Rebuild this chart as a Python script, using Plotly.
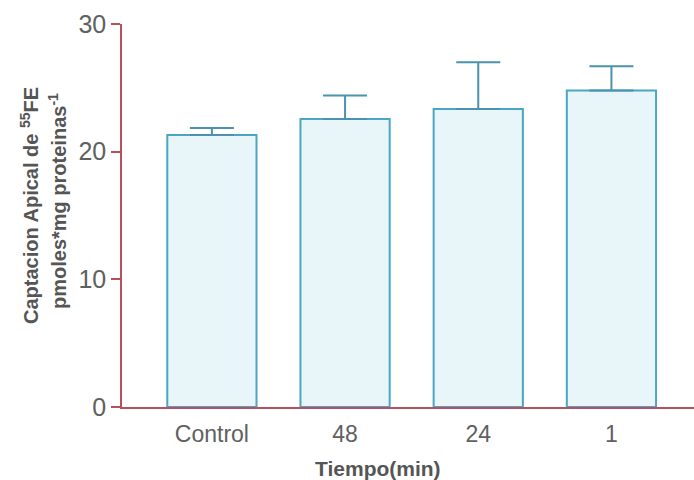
import plotly.graph_objects as go

categories = ["Control", "48", "24", "1"]
values = [21.3, 22.55, 23.35, 24.8]
errors = [0.55, 1.85, 3.65, 1.9]
y_ticks = [0, 10, 20, 30]

axis_color = "#b5505c"
text_color = "#555555"
font_family = "Liberation Sans, Arial, sans-serif"

fig = go.Figure()
fig.add_trace(go.Bar(
    x=categories, y=values,
    width=0.67,
    marker=dict(color="#e8f5f9", line=dict(color="#4aa6c4", width=2)),
    error_y=dict(type="data", array=errors, symmetric=False, arrayminus=[0]*4,
                 color="#4a92ad", thickness=2, width=22),
))

fig.update_layout(
    width=694, height=480,
    margin=dict(l=122, r=0, t=24, b=73),
    paper_bgcolor="white", plot_bgcolor="white",
    showlegend=False,
    font=dict(family=font_family, color=text_color),
    xaxis=dict(
        type="category", range=[-0.675, 3.62],
        showline=True, linecolor=axis_color, linewidth=1.5,
        ticks="", tickfont=dict(size=23, color="#606060"),
        ticklabelstandoff=6,
        showgrid=False, zeroline=False,
    ),
    yaxis=dict(
        range=[0, 30], tickvals=y_ticks,
        showline=True, linecolor=axis_color, linewidth=1.5,
        ticks="outside", ticklen=9, tickcolor=axis_color, tickwidth=1.5,
        tickfont=dict(size=25, color="#606060"),
        showgrid=False, zeroline=False,
    ),
    annotations=[
        dict(text="<b>Tiempo(min)</b>", xref="paper", yref="paper",
             x=(378 - 122) / 572, y=-(468 - 407) / 383, xanchor="center", yanchor="middle",
             showarrow=False, font=dict(size=21, color=text_color)),
        dict(text="<b>Captacion Apical de <sup>55</sup>FE</b>", xref="paper", yref="paper",
             x=-(122 - 29) / 572, y=(407 - 206) / 383, xanchor="center", yanchor="middle",
             textangle=-90, showarrow=False, font=dict(size=20, color=text_color)),
        dict(text="<b>pmoles*mg proteinas<sup>-1</sup></b>", xref="paper", yref="paper",
             x=-(122 - 57) / 572, y=(407 - 201) / 383, xanchor="center", yanchor="middle",
             textangle=-90, showarrow=False, font=dict(size=20, color=text_color)),
    ],
)

fig.write_html("out.html")
